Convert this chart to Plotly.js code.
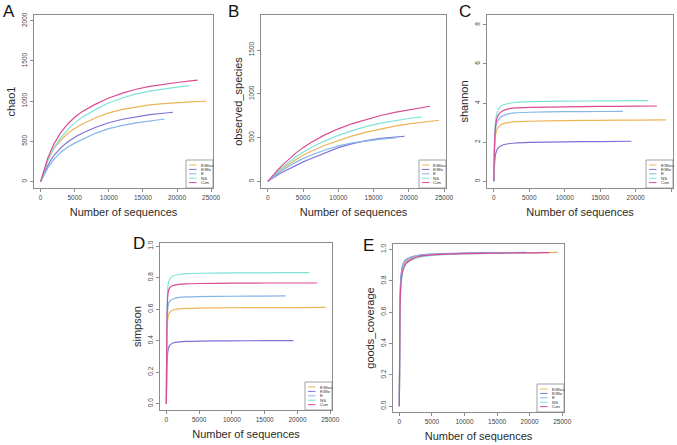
<!DOCTYPE html>
<html>
<head>
<meta charset="utf-8">
<script src="https://cdn.plot.ly/plotly-3.0.1.min.js"></script>
<style>html,body{margin:0;padding:0;background:#fff;}#chart{width:677px;height:445px;}</style>
</head>
<body>
<div id="chart"></div>
<script>
// ---------- DATA ----------
const groups = ['E38eu', 'E38e', 'E', 'NS', 'Con'];
const endDepth = [24300, 19400, 18200, 21800, 23000];

// richness metrics (chao1, observed_species) sampled at these depths, then at each group's end depth
const depthsRich = [0, 250, 500, 1000, 1500, 2000, 3000, 4000, 5000, 6000, 8000, 10000, 12000, 14000, 16000, 18000, 20000, 22000, 24000];
// diversity metrics (shannon, simpson, goods_coverage)
const depthsDiv = [0, 100, 250, 500, 1000, 2000, 3000, 5000, 10000, 15000, 20000];

const chao1_E38eu = [0, 70, 135, 250, 340, 415, 520, 600, 660, 710, 790, 855, 898, 930, 953, 970, 983, 992, 999, 1000];
const chao1_E38e  = [0, 50, 100, 190, 265, 330, 425, 495, 550, 598, 672, 732, 775, 808, 832, 850, 862];
const chao1_E     = [0, 42, 85, 160, 225, 283, 368, 430, 478, 520, 600, 658, 700, 730, 752, 776, 778];
const chao1_NS    = [0, 65, 130, 250, 345, 425, 550, 650, 730, 795, 895, 980, 1040, 1090, 1125, 1152, 1175, 1193];
const chao1_Con   = [0, 75, 150, 280, 385, 475, 615, 720, 800, 865, 960, 1040, 1100, 1148, 1185, 1212, 1232, 1252, 1263];

const obs_E38eu = [0, 19, 37, 72, 106, 140, 200, 250, 297, 338, 410, 469, 520, 563, 600, 630, 656, 678, 695, 698];
const obs_E38e  = [0, 14, 27, 52, 77, 102, 145, 185, 222, 256, 325, 385, 430, 465, 490, 506, 515];
const obs_E     = [0, 17, 34, 65, 96, 125, 175, 220, 260, 295, 355, 405, 440, 465, 482, 497, 498];
const obs_NS    = [0, 21, 42, 80, 118, 155, 220, 280, 333, 380, 460, 525, 580, 628, 665, 695, 718, 736];
const obs_Con   = [0, 25, 50, 95, 138, 180, 255, 325, 385, 438, 528, 600, 660, 710, 752, 788, 818, 845, 858];

const shannon_E38eu = [0, 1.7, 2.4, 2.7, 2.9, 3.0, 3.05, 3.07, 3.1, 3.12, 3.13, 3.14];
const shannon_E38e  = [0, 0.9, 1.4, 1.65, 1.82, 1.92, 1.96, 1.99, 2.02, 2.03, 2.05];
const shannon_E     = [0, 1.9, 2.7, 3.05, 3.3, 3.45, 3.5, 3.53, 3.56, 3.57, 3.58];
const shannon_NS    = [0, 2.2, 3.1, 3.55, 3.85, 3.98, 4.03, 4.07, 4.1, 4.11, 4.12, 4.12];
const shannon_Con   = [0, 2.0, 2.9, 3.3, 3.55, 3.7, 3.75, 3.78, 3.81, 3.83, 3.84, 3.85];

const simpson_E38eu = [0, 0.45, 0.55, 0.58, 0.595, 0.602, 0.605, 0.607, 0.609, 0.61, 0.61, 0.611];
const simpson_E38e  = [0, 0.25, 0.34, 0.37, 0.385, 0.392, 0.395, 0.397, 0.399, 0.4, 0.4];
const simpson_E     = [0, 0.5, 0.62, 0.65, 0.665, 0.675, 0.678, 0.68, 0.682, 0.683, 0.684];
const simpson_NS    = [0, 0.6, 0.75, 0.79, 0.81, 0.82, 0.825, 0.828, 0.83, 0.831, 0.832, 0.832];
const simpson_Con   = [0, 0.55, 0.7, 0.735, 0.75, 0.758, 0.761, 0.763, 0.765, 0.766, 0.766, 0.766];

const goods_E38eu = [0, 0.62, 0.8, 0.875, 0.92, 0.945, 0.958, 0.967, 0.975, 0.978, 0.98, 0.982];
const goods_E38e  = [0, 0.66, 0.83, 0.9, 0.935, 0.955, 0.963, 0.97, 0.977, 0.979, 0.981];
const goods_E     = [0, 0.65, 0.82, 0.895, 0.93, 0.952, 0.962, 0.969, 0.976, 0.979, 0.98];
const goods_NS    = [0, 0.58, 0.77, 0.85, 0.905, 0.935, 0.95, 0.963, 0.972, 0.976, 0.979, 0.98];
const goods_Con   = [0, 0.6, 0.78, 0.86, 0.91, 0.94, 0.955, 0.965, 0.973, 0.977, 0.979, 0.98];

const xTicks = [0, 5000, 10000, 15000, 20000, 25000];
const metricNames = ['chao1', 'observed_species', 'shannon', 'simpson', 'goods_coverage'];
const panelLetters = ['A', 'B', 'C', 'D', 'E'];
const yTicks = [
  [0, 500, 1000, 1500, 2000],
  [0, 500, 1000, 1500],
  [0, 2, 4, 6, 8],
  [0, 0.2, 0.4, 0.6, 0.8, 1.0],
  [0, 0.2, 0.4, 0.6, 0.8, 1.0]
];

// ---------- STYLE / LAYOUT ----------
const colors = ['#EDB458', '#7E72D6', '#84B6E8', '#7FE3D9', '#DA4B95'];
const W = 677, H = 445;
const FONT = 'Liberation Sans, Arial, sans-serif';
// panel frames in pixels: [left, right, top, bottom]
const frames = [
  [34, 213, 15, 188],
  [261, 446, 15, 188],
  [487, 673, 15, 188],
  [160, 332, 243, 410],
  [393, 564, 244, 412]
];
const yRanges = [[-80, 2072], [-76, 1900], [-0.34, 8.5], [-0.04, 1.02], [-0.037, 1.035]];
const xRange = [-972, 25272];
const letterPos = [[9, 11], [233, 11], [465, 11], [139, 243], [368, 245]];

const metricSeries = [
  {depths: depthsRich, shape: 'linear', vals: [chao1_E38eu, chao1_E38e, chao1_E, chao1_NS, chao1_Con]},
  {depths: depthsRich, shape: 'linear', vals: [obs_E38eu, obs_E38e, obs_E, obs_NS, obs_Con]},
  {depths: depthsDiv, shape: 'spline', vals: [shannon_E38eu, shannon_E38e, shannon_E, shannon_NS, shannon_Con]},
  {depths: depthsDiv, shape: 'spline', vals: [simpson_E38eu, simpson_E38e, simpson_E, simpson_NS, simpson_Con]},
  {depths: depthsDiv, shape: 'spline', vals: [goods_E38eu, goods_E38e, goods_E, goods_NS, goods_Con]}
];

function px(xp) { return xp / W; }
function py(yp) { return 1 - yp / H; }

const traces = [];
const layout = {
  width: W, height: H,
  margin: {l: 0, r: 0, t: 0, b: 0},
  paper_bgcolor: '#fff', plot_bgcolor: '#fff',
  showlegend: false,
  font: {family: FONT, color: '#222'},
  shapes: [], annotations: []
};

metricSeries.forEach((m, p) => {
  const sfx = p === 0 ? '' : String(p + 1);
  const xa = 'x' + sfx, ya = 'y' + sfx;
  groups.forEach((g, i) => {
    const end = endDepth[i];
    const xs = m.depths.filter(d => d < end).concat([end]);
    const line = {color: colors[i], width: 1.2, shape: m.shape};
    if (m.shape === 'spline') line.smoothing = 0.6;
    traces.push({
      type: 'scatter', mode: 'lines', name: g,
      x: xs, y: m.vals[i],
      xaxis: xa, yaxis: ya,
      line: line,
      hoverinfo: 'skip'
    });
  });
  const f = frames[p];
  const axCommon = {
    showline: true, mirror: true, linecolor: '#8c8c8c', linewidth: 1,
    ticks: 'outside', ticklen: 3, tickwidth: 1, tickcolor: '#8c8c8c',
    showgrid: false, zeroline: false, automargin: false,
    tickfont: {family: FONT, size: 6.5, color: '#444'}
  };
  layout['xaxis' + sfx] = Object.assign({}, axCommon, {
    domain: [px(f[0]), px(f[1])], anchor: ya, range: xRange,
    tickmode: 'array', tickvals: xTicks, ticktext: xTicks.map(String),
    title: {text: 'Number of sequences', font: {family: FONT, size: 11, color: '#2a2a2a'}, standoff: 8}
  });
  layout['yaxis' + sfx] = Object.assign({}, axCommon, {
    domain: [py(f[3]), py(f[2])], anchor: xa, range: yRanges[p],
    tickmode: 'array', tickvals: yTicks[p],
    ticktext: yTicks[p].map(v => p >= 3 ? v.toFixed(1) : String(v)),
    tickangle: -90,
    title: {text: metricNames[p], font: {family: FONT, size: 11, color: '#2a2a2a'}, standoff: 3}
  });
  // panel letter
  layout.annotations.push({
    xref: 'paper', yref: 'paper', x: px(letterPos[p][0]), y: py(letterPos[p][1]),
    text: panelLetters[p], showarrow: false, xanchor: 'center', yanchor: 'middle',
    font: {family: FONT, size: 17, color: '#111'}
  });
  // legend box (bottom-right inside frame)
  const bx1 = f[1], by1 = f[3], bx0 = bx1 - 27, by0 = by1 - 28;
  layout.shapes.push({
    type: 'rect', xref: 'paper', yref: 'paper',
    x0: px(bx0), x1: px(bx1), y0: py(by1), y1: py(by0),
    line: {color: '#8c8c8c', width: 0.8}, fillcolor: '#fff', layer: 'above'
  });
  groups.forEach((g, i) => {
    const yy = by0 + 5 + i * 4.4;
    layout.shapes.push({
      type: 'line', xref: 'paper', yref: 'paper',
      x0: px(bx0 + 3), x1: px(bx0 + 10.5), y0: py(yy), y1: py(yy),
      line: {color: colors[i], width: 1}, layer: 'above'
    });
    layout.annotations.push({
      xref: 'paper', yref: 'paper', x: px(bx0 + 12.5), y: py(yy),
      text: g, showarrow: false, xanchor: 'left', yanchor: 'middle',
      font: {family: FONT, size: 4.4, color: '#333'}
    });
  });
});

Plotly.newPlot('chart', traces, layout, {staticPlot: true, displayModeBar: false});
</script>
</body>
</html>
